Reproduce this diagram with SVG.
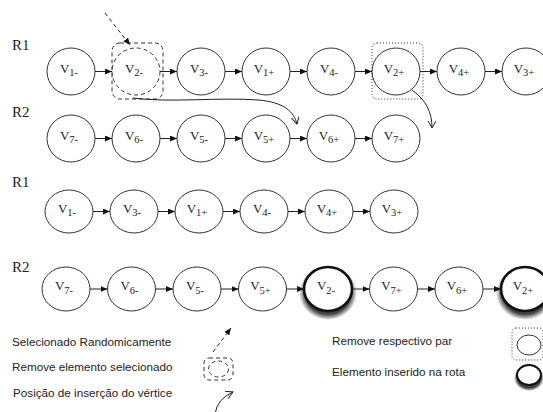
<svg xmlns="http://www.w3.org/2000/svg" width="543" height="412" viewBox="0 0 543 412">
<defs>
<marker id="ah" markerUnits="userSpaceOnUse" markerWidth="8" markerHeight="6" refX="7" refY="3" orient="auto">
<path d="M0,0 L7,3 L0,6 z" fill="#111"/>
</marker>
<marker id="oh" markerUnits="userSpaceOnUse" markerWidth="10" markerHeight="10" refX="7" refY="4" orient="auto">
<path d="M0,0 L7,4 L0,8" fill="none" stroke="#222" stroke-width="1"/>
</marker>
<radialGradient id="sg">
<stop offset="0.78" stop-color="#000" stop-opacity="0.75"/>
<stop offset="1" stop-color="#000" stop-opacity="0"/>
</radialGradient>
</defs>
<style>
.n{fill:#fff;stroke:#333;stroke-width:1}
.b{fill:#fff;stroke:#111;stroke-width:2.6}
.sd{fill:url(#sg)}
.t{font-family:"Liberation Serif",serif;font-size:13px;fill:#222;text-anchor:middle}
.s{font-size:10.5px}
.r{font-family:"Liberation Serif",serif;font-size:15px;fill:#222}
.l{font-family:"Liberation Sans",Arial,sans-serif;font-size:11.7px;fill:#222}
.c line{stroke:#222;stroke-width:1;marker-end:url(#ah)}
.d{fill:none;stroke:#333;stroke-width:1;stroke-dasharray:4,3}
.o{fill:none;stroke:#333;stroke-width:1;stroke-dasharray:1,2}
.cv{fill:none;stroke:#222;stroke-width:1;marker-end:url(#oh)}
</style>
<g id="labels">
<text class="r" x="12" y="50">R1</text>
<text class="r" x="12" y="117">R2</text>
<text class="r" x="12" y="187">R1</text>
<text class="r" x="12" y="272">R2</text>
</g>
<g id="row1">
<g id="r1-v1m"><ellipse class="n" cx="71" cy="71.5" rx="24" ry="23.5"/><text class="t" x="69" y="72.5">V<tspan class="s" dy="3.5">1-</tspan></text></g>
<g id="r1-v2m"><ellipse class="d" cx="136" cy="71.5" rx="24" ry="23.5"/><text class="t" x="134" y="72.5">V<tspan class="s" dy="3.5">2-</tspan></text></g>
<g id="r1-v3m"><ellipse class="n" cx="201" cy="71.5" rx="24" ry="23.5"/><text class="t" x="199" y="72.5">V<tspan class="s" dy="3.5">3-</tspan></text></g>
<g id="r1-v1p"><ellipse class="n" cx="266" cy="71.5" rx="24" ry="23.5"/><text class="t" x="264" y="72.5">V<tspan class="s" dy="3.5">1+</tspan></text></g>
<g id="r1-v4m"><ellipse class="n" cx="331" cy="71.5" rx="24" ry="23.5"/><text class="t" x="329" y="72.5">V<tspan class="s" dy="3.5">4-</tspan></text></g>
<g id="r1-v2p"><ellipse class="n" cx="396" cy="71.5" rx="24" ry="23.5"/><text class="t" x="394" y="72.5">V<tspan class="s" dy="3.5">2+</tspan></text></g>
<g id="r1-v4p"><ellipse class="n" cx="461" cy="71.5" rx="24" ry="23.5"/><text class="t" x="459" y="72.5">V<tspan class="s" dy="3.5">4+</tspan></text></g>
<g id="r1-v3p"><ellipse class="n" cx="526" cy="71.5" rx="24" ry="23.5"/><text class="t" x="524" y="72.5">V<tspan class="s" dy="3.5">3+</tspan></text></g>
<g id="sel-box"><rect class="d" x="112" y="43" width="51" height="56" rx="8"/></g>
<g id="pair-box"><rect class="o" x="372" y="43" width="51" height="56" rx="5"/></g>
</g>
<g id="row2">
<g id="r2-v7m"><ellipse class="n" cx="71" cy="138.5" rx="24" ry="23.5"/><text class="t" x="69" y="139.5">V<tspan class="s" dy="3.5">7-</tspan></text></g>
<g id="r2-v6m"><ellipse class="n" cx="136" cy="138.5" rx="24" ry="23.5"/><text class="t" x="134" y="139.5">V<tspan class="s" dy="3.5">6-</tspan></text></g>
<g id="r2-v5m"><ellipse class="n" cx="201" cy="138.5" rx="24" ry="23.5"/><text class="t" x="199" y="139.5">V<tspan class="s" dy="3.5">5-</tspan></text></g>
<g id="r2-v5p"><ellipse class="n" cx="266" cy="138.5" rx="24" ry="23.5"/><text class="t" x="264" y="139.5">V<tspan class="s" dy="3.5">5+</tspan></text></g>
<g id="r2-v6p"><ellipse class="n" cx="331" cy="138.5" rx="24" ry="23.5"/><text class="t" x="329" y="139.5">V<tspan class="s" dy="3.5">6+</tspan></text></g>
<g id="r2-v7p"><ellipse class="n" cx="396" cy="138.5" rx="24" ry="23.5"/><text class="t" x="394" y="139.5">V<tspan class="s" dy="3.5">7+</tspan></text></g>
</g>
<g id="row3">
<g id="r3-v1m"><ellipse class="n" cx="69" cy="211.5" rx="24" ry="21.5"/><text class="t" x="67" y="212.5">V<tspan class="s" dy="3.5">1-</tspan></text></g>
<g id="r3-v3m"><ellipse class="n" cx="134" cy="211.5" rx="24" ry="21.5"/><text class="t" x="132" y="212.5">V<tspan class="s" dy="3.5">3-</tspan></text></g>
<g id="r3-v1p"><ellipse class="n" cx="199" cy="211.5" rx="24" ry="21.5"/><text class="t" x="197" y="212.5">V<tspan class="s" dy="3.5">1+</tspan></text></g>
<g id="r3-v4m"><ellipse class="n" cx="264" cy="211.5" rx="24" ry="21.5"/><text class="t" x="262" y="212.5">V<tspan class="s" dy="3.5">4-</tspan></text></g>
<g id="r3-v4p"><ellipse class="n" cx="329" cy="211.5" rx="24" ry="21.5"/><text class="t" x="327" y="212.5">V<tspan class="s" dy="3.5">4+</tspan></text></g>
<g id="r3-v3p"><ellipse class="n" cx="394" cy="211.5" rx="24" ry="21.5"/><text class="t" x="392" y="212.5">V<tspan class="s" dy="3.5">3+</tspan></text></g>
</g>
<g id="row4">
<g id="r4-v7m"><ellipse class="n" cx="66" cy="289" rx="24" ry="22"/><text class="t" x="64" y="290">V<tspan class="s" dy="3.5">7-</tspan></text></g>
<g id="r4-v6m"><ellipse class="n" cx="131.5" cy="289" rx="24" ry="22"/><text class="t" x="129.5" y="290">V<tspan class="s" dy="3.5">6-</tspan></text></g>
<g id="r4-v5m"><ellipse class="n" cx="197" cy="289" rx="24" ry="22"/><text class="t" x="195" y="290">V<tspan class="s" dy="3.5">5-</tspan></text></g>
<g id="r4-v5p"><ellipse class="n" cx="262.5" cy="289" rx="24" ry="22"/><text class="t" x="260.5" y="290">V<tspan class="s" dy="3.5">5+</tspan></text></g>
<g id="r4-v2m"><ellipse class="sd" cx="328" cy="293" rx="29" ry="27"/><ellipse class="b" cx="328" cy="289" rx="24" ry="22"/><text class="t" x="326" y="290">V<tspan class="s" dy="3.5">2-</tspan></text></g>
<g id="r4-v7p"><ellipse class="n" cx="393.5" cy="289" rx="24" ry="22"/><text class="t" x="391.5" y="290">V<tspan class="s" dy="3.5">7+</tspan></text></g>
<g id="r4-v6p"><ellipse class="n" cx="459" cy="289" rx="24" ry="22"/><text class="t" x="457" y="290">V<tspan class="s" dy="3.5">6+</tspan></text></g>
<g id="r4-v2p"><ellipse class="sd" cx="525" cy="293" rx="29" ry="27"/><ellipse class="b" cx="525" cy="289" rx="24" ry="22"/><text class="t" x="523" y="290">V<tspan class="s" dy="3.5">2+</tspan></text></g>
</g>
<g id="connectors" class="c">
<line x1="95" y1="71.5" x2="112" y2="71.5"/>
<line x1="160" y1="71.5" x2="177" y2="71.5"/>
<line x1="225" y1="71.5" x2="242" y2="71.5"/>
<line x1="290" y1="71.5" x2="307" y2="71.5"/>
<line x1="355" y1="71.5" x2="372" y2="71.5"/>
<line x1="420" y1="71.5" x2="437" y2="71.5"/>
<line x1="485" y1="71.5" x2="502" y2="71.5"/>
<line x1="95" y1="138.5" x2="112" y2="138.5"/>
<line x1="160" y1="138.5" x2="177" y2="138.5"/>
<line x1="225" y1="138.5" x2="242" y2="138.5"/>
<line x1="290" y1="138.5" x2="307" y2="138.5"/>
<line x1="355" y1="138.5" x2="372" y2="138.5"/>
<line x1="93" y1="211.5" x2="110" y2="211.5"/>
<line x1="158" y1="211.5" x2="175" y2="211.5"/>
<line x1="223" y1="211.5" x2="240" y2="211.5"/>
<line x1="288" y1="211.5" x2="305" y2="211.5"/>
<line x1="353" y1="211.5" x2="370" y2="211.5"/>
<line x1="90" y1="289" x2="107.5" y2="289"/>
<line x1="155.5" y1="289" x2="173" y2="289"/>
<line x1="221" y1="289" x2="238.5" y2="289"/>
<line x1="286.5" y1="289" x2="304" y2="289"/>
<line x1="352" y1="289" x2="369.5" y2="289"/>
<line x1="417.5" y1="289" x2="435" y2="289"/>
<line x1="483" y1="289" x2="501" y2="289"/>
<line x1="105" y1="13" x2="130" y2="45" stroke-dasharray="4,3"/>
<path class="cv" d="M133,98 C170,103 220,97 258,100 C284,102 294,112 297,124"/>
<path class="cv" d="M412,90 C426,100 432,112 432,128"/>
</g>
<g id="legend">
<text class="l" x="12" y="346">Selecionado Randomicamente</text>
<text class="l" x="12" y="371">Remove elemento selecionado</text>
<text class="l" x="13" y="397">Posição de inserção do vértice</text>
<text class="l" x="332" y="345">Remove respectivo par</text>
<text class="l" x="332" y="376">Elemento inserido na rota</text>
<line x1="213" y1="352" x2="231" y2="328" stroke="#222" stroke-width="1" stroke-dasharray="4,3" marker-end="url(#ah)"/>
<rect class="d" x="204" y="358" width="29" height="22" rx="5"/>
<ellipse class="d" cx="218.5" cy="369" rx="10" ry="8"/>
<path class="cv" d="M215,414 Q217,399 233,392"/>
<rect class="o" x="512" y="328" width="31" height="32" rx="4"/>
<ellipse class="n" cx="529" cy="345" rx="12" ry="10"/>
<ellipse class="sd" cx="529" cy="378" rx="15" ry="13"/>
<ellipse class="b" cx="529" cy="375" rx="12" ry="10" style="stroke-width:2"/>
</g>
</svg>
